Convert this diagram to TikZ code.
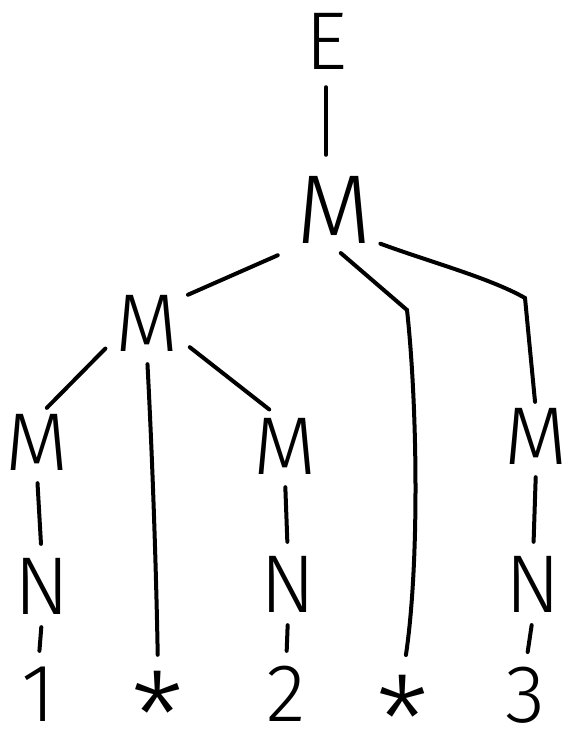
\documentclass[tikz,border=0pt]{standalone}
\usepackage{fontspec}
\setmainfont{Fira Sans}[UprightFont=* Light]
\tikzset{
  sym/.style={inner sep=0pt, minimum width=50pt, minimum height=56pt,
    text height=48pt, text depth=0pt, font=\fontsize{82}{82}\selectfont},
  link/.style={line width=4pt, line cap=round, shorten <=9pt, shorten >=22pt},
}
\newcommand{\hstar}{\raisebox{-36pt}{\fontsize{120}{120}\selectfont *}}

\begin{document}
\begin{tikzpicture}[x=1pt,y=1pt,yscale=-1]
\useasboundingbox (0,0) rectangle (571,740);
% symbols
\node[sym] (E) at (326,45) {E};
\node[sym, minimum width=62pt, minimum height=66pt, text height=58pt,
  font=\fontsize{98}{98}\selectfont] (M0) at (334,214) {M};
\node[sym] (M1) at (147,327) {M};
\node[sym] (Ma) at (37,446) {M};
\node[sym] (Mb) at (285,450) {M};
\node[sym] (Mc) at (536,440) {M};
\node[sym] (Na) at (42,590) {N};
\node[sym] (Nb) at (288,588) {N};
\node[sym] (Nc) at (533,588) {N};
\node[sym] (L1) at (38,697) {1};
\node[sym] (S1) at (158,699) {\hstar};
\node[sym] (L2) at (286,697) {2};
\node[sym] (S2) at (403,703) {\hstar};
\node[sym] (L3) at (525,698) {3};
\coordinate (B2) at (407,310);
\coordinate (B3) at (525,298);
% branches
\draw[link, shorten <=14pt, shorten >=26pt] (E.south) -- (E.south |- M0.north);
\draw[link, shorten <=20pt, shorten >=10pt] (M0.south west) -- (M1.north east);
\draw[link, shorten >=20pt] (M0.south) -- (B2) .. controls (417,400) and (420,560) .. (S2.north);
\draw[link, shorten >=10pt] (M0.-35) .. controls (430,262) and (490,278) .. (B3) -- (Mc.north);
\draw[link, shorten <=14pt, shorten >=14pt] (M1.200) -- (Ma.north);
\draw[link, shorten >=16pt] (M1.south) .. controls (152,450) and (156,560) .. (S1.north);
\draw[link, shorten <=14pt, shorten >=20pt] (M1.-20) -- (Mb.north);
\foreach \a/\b in {Ma/Na, Na/L1, Mb/Nb, Nb/L2, Mc/Nc, Nc/L3}
  \draw[link, shorten >=18pt] (\a.south) -- (\b.north);
\end{tikzpicture}
\end{document}
